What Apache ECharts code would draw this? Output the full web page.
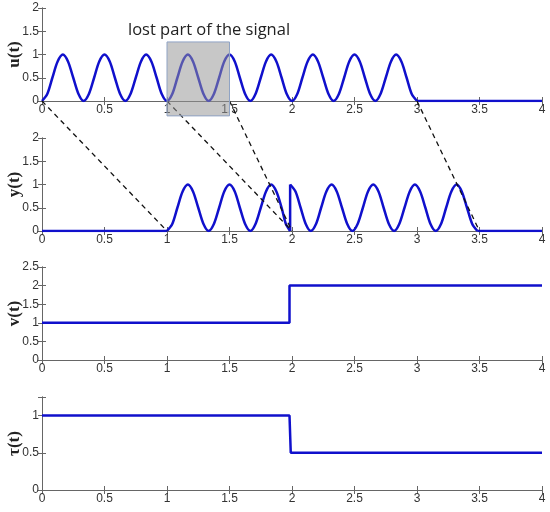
<!DOCTYPE html>
<html>
<head>
<meta charset="utf-8">
<script src="https://cdn.jsdelivr.net/npm/echarts@6/dist/echarts.min.js"></script>
<style>
  html, body { margin: 0; padding: 0; background: #fff; }
  #main { width: 550px; height: 512px; }
</style>
</head>
<body>
<div id="main"></div>
<script>
// 数据：u(t) 原始信号，每八分之一周期读一个点
var uTime = [0, 0.042, 0.083, 0.125, 0.167, 0.208, 0.25, 0.292,
  0.333, 0.375, 0.417, 0.458, 0.5, 0.542, 0.583, 0.625,
  0.667, 0.708, 0.75, 0.792, 0.833, 0.875, 0.917, 0.958,
  1, 1.042, 1.083, 1.125, 1.167, 1.208, 1.25, 1.292,
  1.333, 1.375, 1.417, 1.458, 1.5, 1.542, 1.583, 1.625,
  1.667, 1.708, 1.75, 1.792, 1.833, 1.875, 1.917, 1.958,
  2, 2.042, 2.083, 2.125, 2.167, 2.208, 2.25, 2.292,
  2.333, 2.375, 2.417, 2.458, 2.5, 2.542, 2.583, 2.625,
  2.667, 2.708, 2.75, 2.792, 2.833, 2.875, 2.917, 2.958, 3];
var uValue = [0, 0.15, 0.5, 0.85, 1, 0.85, 0.5, 0.15,
  0, 0.15, 0.5, 0.85, 1, 0.85, 0.5, 0.15,
  0, 0.15, 0.5, 0.85, 1, 0.85, 0.5, 0.15,
  0, 0.15, 0.5, 0.85, 1, 0.85, 0.5, 0.15,
  0, 0.15, 0.5, 0.85, 1, 0.85, 0.5, 0.15,
  0, 0.15, 0.5, 0.85, 1, 0.85, 0.5, 0.15,
  0, 0.15, 0.5, 0.85, 1, 0.85, 0.5, 0.15,
  0, 0.15, 0.5, 0.85, 1, 0.85, 0.5, 0.15,
  0, 0.15, 0.5, 0.85, 1, 0.85, 0.5, 0.15, 0];
var uTailTime = [3, 4];
var uTailValue = [0, 0];

// y(t) 接收信号
var yHeadTime = [0, 1];
var yHeadValue = [0, 0];
var yPart1Time = [1, 1.042, 1.083, 1.125, 1.167, 1.208, 1.25, 1.292,
  1.333, 1.375, 1.417, 1.458, 1.5, 1.542, 1.583, 1.625,
  1.667, 1.708, 1.75, 1.792, 1.833, 1.875, 1.917, 1.951, 1.985];
var yPart1Value = [0, 0.15, 0.5, 0.85, 1, 0.85, 0.5, 0.15,
  0, 0.15, 0.5, 0.85, 1, 0.85, 0.5, 0.15,
  0, 0.15, 0.5, 0.85, 1, 0.85, 0.5, 0.15, 0];
var yJumpTime = [1.985, 1.985];
var yJumpValue = [0, 1];
var yPart2Time = [1.985, 2.028, 2.069, 2.11, 2.15, 2.192, 2.233, 2.275,
  2.317, 2.358, 2.4, 2.442, 2.483, 2.525, 2.567, 2.608,
  2.65, 2.692, 2.733, 2.775, 2.817, 2.858, 2.9, 2.942,
  2.983, 3.025, 3.067, 3.108, 3.15, 3.192, 3.233, 3.275,
  3.317, 3.358, 3.4, 3.442, 3.483];
var yPart2Value = [1, 0.85, 0.5, 0.15, 0, 0.15, 0.5, 0.85,
  1, 0.85, 0.5, 0.15, 0, 0.15, 0.5, 0.85,
  1, 0.85, 0.5, 0.15, 0, 0.15, 0.5, 0.85,
  1, 0.85, 0.5, 0.15, 0, 0.15, 0.5, 0.85,
  1, 0.85, 0.5, 0.15, 0];
var yTailTime = [3.483, 4];
var yTailValue = [0, 0];

// v(t) 和 tau(t)
var vTime = [0, 1.98, 1.98, 4];
var vValue = [1, 1, 2, 2];
var tauTime = [0, 1.98, 1.99, 4];
var tauValue = [1, 1, 0.5, 0.5];

// 坐标轴刻度
var xTicks = { min: 0, max: 4, interval: 0.5 };
var yMax = [2, 2, 2.5, 1.25];
var yNames = ["u(t)", "y(t)", "v(t)", "τ(t)"];

// 虚线对应关系 [u中的t, y中的t]
var links = [[0, 1], [1, 2], [1.5, 2], [3, 3.5]];
// 丢失部分的矩形 [t0, t1, 下, 上]
var lostBox = [1, 1.5, -0.32, 1.27];

function pairs(ts, vs) {
  return ts.map(function (t, i) { return [t, vs[i]]; });
}

var gridTops = [8, 138, 267, 397];
var axisColor = "#666";

var grids = [], xAxes = [], yAxes = [], series = [];
gridTops.forEach(function (top, i) {
  grids.push({ left: 42, right: 8, top: top, height: 93, containLabel: false, outerBoundsMode: "none" });
  var base = {
    type: "value", gridIndex: i, min: xTicks.min, max: xTicks.max, interval: xTicks.interval,
    axisLine: { show: true, lineStyle: { color: axisColor, width: 1 } },
    axisTick: { show: true, inside: true, length: 4, lineStyle: { color: axisColor } },
    splitLine: { show: false }
  };
  xAxes.push(Object.assign({}, base, {
    position: "bottom",
    axisLabel: { color: "#333", fontSize: 12, fontFamily: "Liberation Sans", margin: 3 }
  }));
  xAxes.push(Object.assign({}, base, { position: "top", axisLabel: { show: false } }));
  var ybase = {
    type: "value", gridIndex: i, min: 0, max: yMax[i], interval: 0.5,
    axisLine: { show: true, lineStyle: { color: axisColor, width: 1 } },
    axisTick: { show: true, inside: true, length: 4, lineStyle: { color: axisColor } },
    splitLine: { show: false }
  };
  yAxes.push(Object.assign({}, ybase, {
    position: "left",
    name: yNames[i], nameLocation: "middle", nameGap: 19, nameRotate: 90, nameMoveOverlap: false,
    nameTextStyle: { fontFamily: "Liberation Serif", fontSize: 17, fontWeight: "bold", color: "#222" },
    axisLabel: {
      color: "#333", fontSize: 12, fontFamily: "Liberation Sans", margin: 3,
      formatter: function (v) { return (v * 2) % 1 === 0 ? String(v) : ""; }
    }
  }));
  yAxes.push(Object.assign({}, ybase, { position: "right", axisLabel: { show: false } }));
});

function line(i, ts, vs, smooth) {
  series.push({
    type: "line", xAxisIndex: 2 * i, yAxisIndex: 2 * i,
    data: pairs(ts, vs), smooth: smooth, showSymbol: false, symbol: "none",
    lineStyle: { color: "#1010cc", width: 2.5 }, silent: true, animation: false
  });
}

line(0, uTime, uValue, 0.3);
line(0, uTailTime, uTailValue, false);
line(1, yHeadTime, yHeadValue, false);
line(1, yPart1Time, yPart1Value, 0.3);
line(1, yJumpTime, yJumpValue, false);
line(1, yPart2Time, yPart2Value, 0.3);
line(1, yTailTime, yTailValue, false);
line(2, vTime, vValue, false);
line(3, tauTime, tauValue, false);

var myChart = echarts.init(document.getElementById("main"));
myChart.setOption({
  animation: false,
  title: {
    text: "lost part of the signal", left: 123, top: 17,
    textStyle: { fontFamily: "Open Sans", fontSize: 16.5, fontWeight: "normal", color: "#222" }
  },
  grid: grids, xAxis: xAxes, yAxis: yAxes, series: series
});

// 用坐标转换画虚线和矩形
var g0 = { xAxisIndex: 0, yAxisIndex: 0 };
var g1 = { xAxisIndex: 2, yAxisIndex: 2 };
var graphics = links.map(function (l) {
  var a = myChart.convertToPixel(g0, [l[0], 0]);
  var b = myChart.convertToPixel(g1, [l[1], 0]);
  return {
    type: "line", z: 100, silent: true,
    shape: { x1: a[0], y1: a[1], x2: b[0], y2: b[1] },
    style: { stroke: "#111", lineWidth: 1.3, lineDash: [5, 4] }
  };
});
var p0 = myChart.convertToPixel(g0, [lostBox[0], lostBox[3]]);
var p1 = myChart.convertToPixel(g0, [lostBox[1], lostBox[2]]);
graphics.push({
  type: "rect", z: 100, silent: true,
  shape: { x: p0[0], y: p0[1], width: p1[0] - p0[0], height: p1[1] - p0[1] },
  style: { fill: "rgba(150,150,150,0.53)", stroke: "#8fa3c4", lineWidth: 1 }
});
myChart.setOption({ graphic: graphics });
</script>
</body>
</html>
